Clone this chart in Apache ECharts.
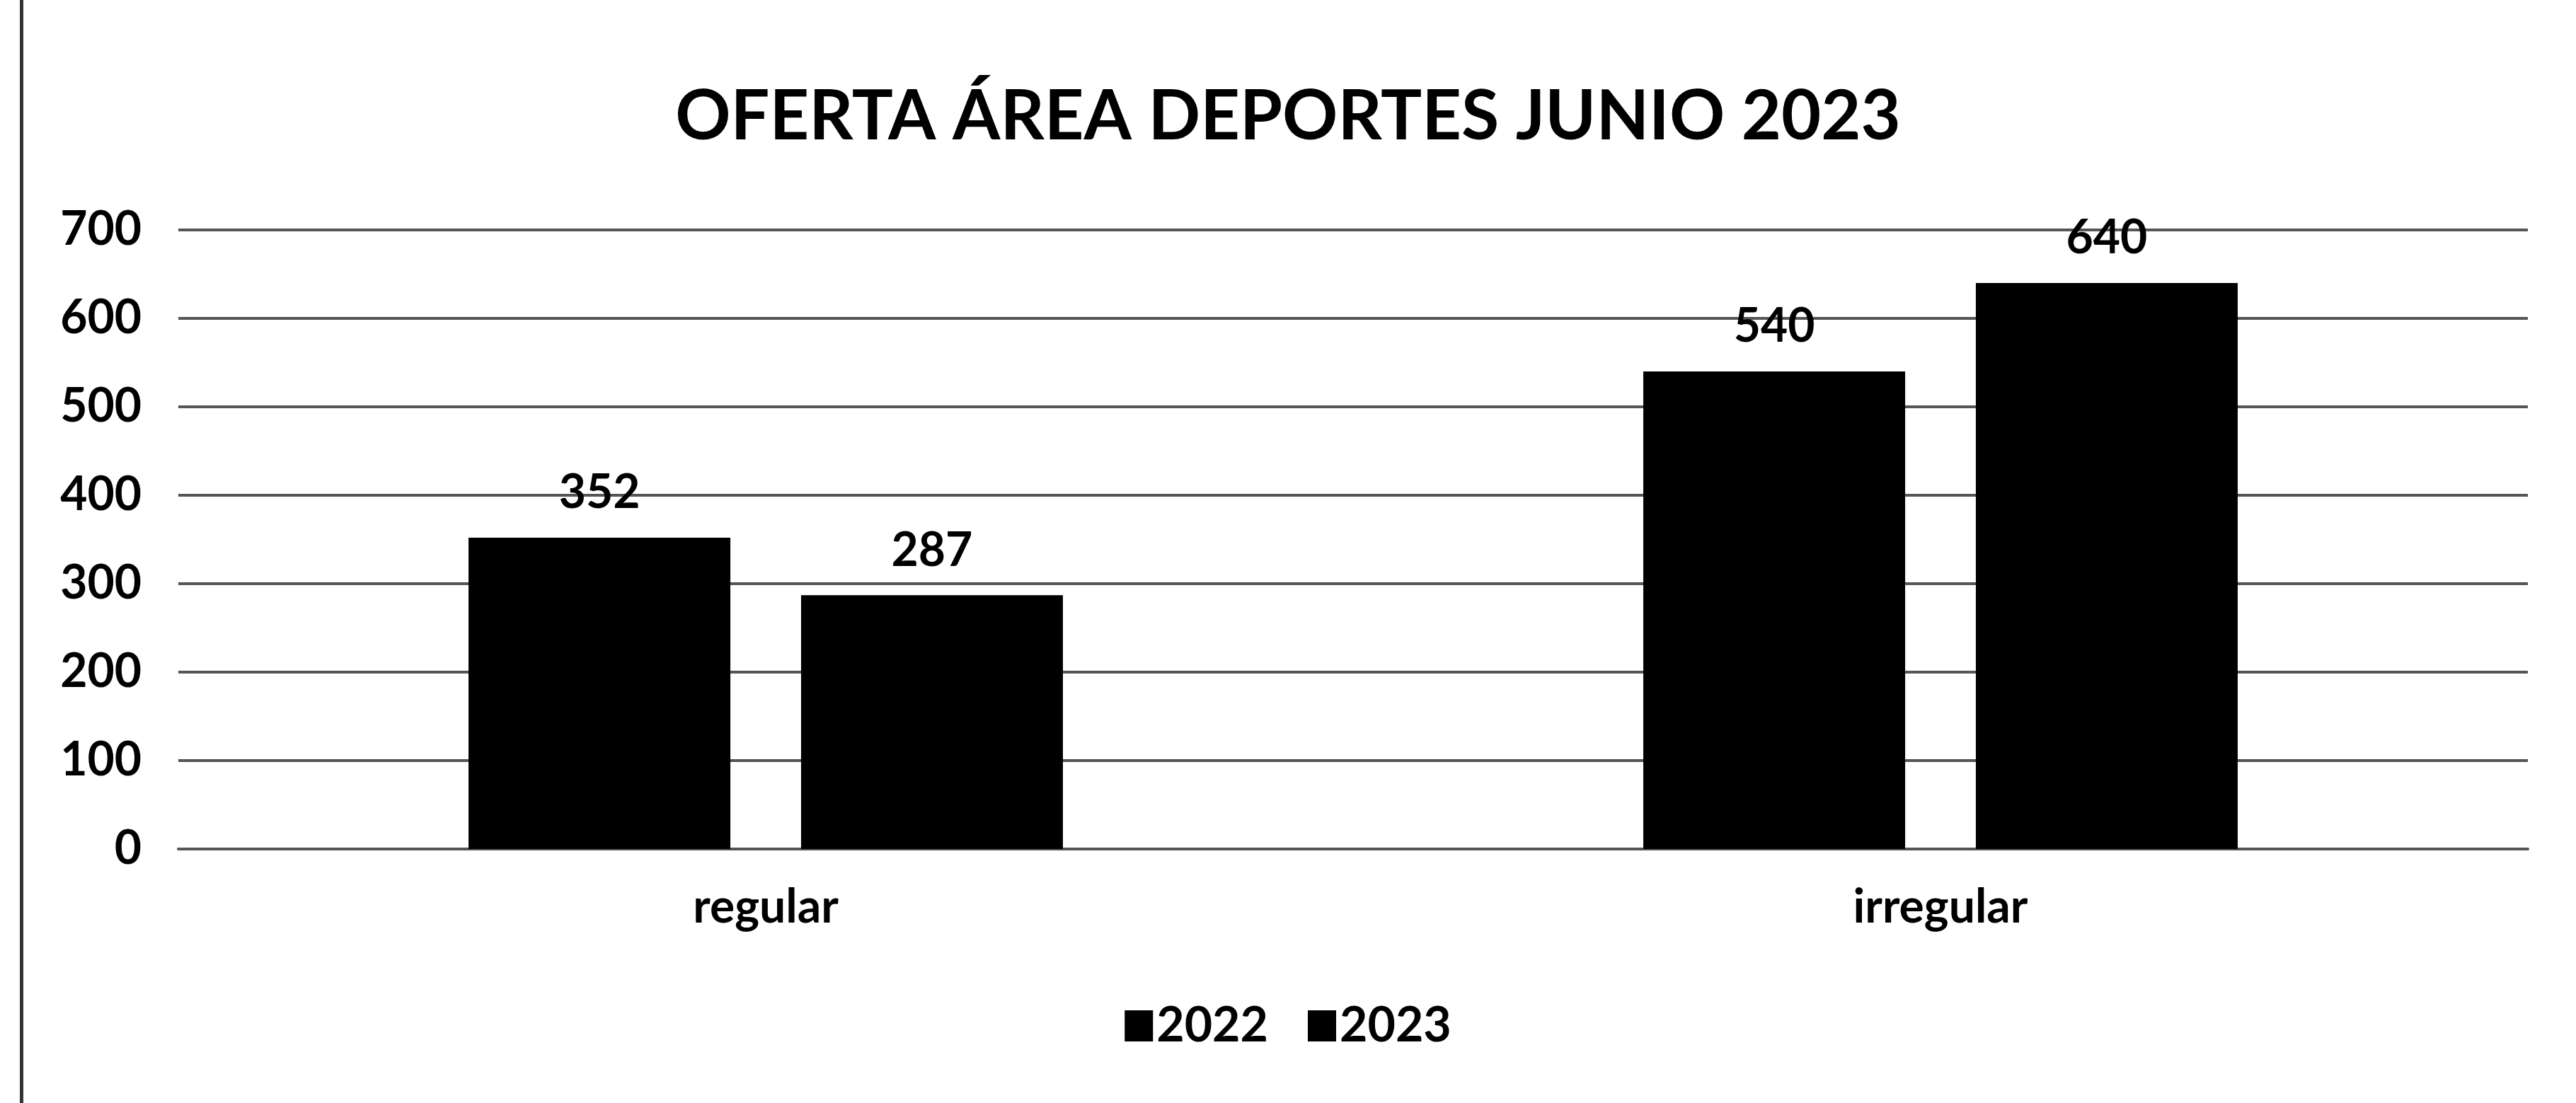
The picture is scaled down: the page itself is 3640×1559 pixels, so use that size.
<!DOCTYPE html>
<html>
<head>
<meta charset="utf-8">
<script src="https://cdn.jsdelivr.net/npm/echarts@6/dist/echarts.min.js"></script>
<style>
html,body{margin:0;padding:0;background:#fff;}
#chart{width:3640px;height:1559px;}
</style>
</head>
<body>
<div id="chart"></div>
<script>
const titleText = 'OFERTA ÁREA DEPORTES JUNIO 2023';
const categories = ['regular', 'irregular'];
const seriesNames = ['2022', '2023'];
const values2022 = [352, 540];
const values2023 = [287, 640];
const yTicks = [0, 100, 200, 300, 400, 500, 600, 700];

const chart = echarts.init(document.getElementById('chart'));
const font = 'Lato, "Open Sans", sans-serif';
const labelStyle = {
  show: true, position: 'top', distance: 30,
  color: '#000', fontFamily: font, fontWeight: 'bold', fontSize: 66
};
chart.setOption({
  backgroundColor: '#fff',
  animation: false,
  title: {
    text: titleText, left: 'center', top: 112,
    textStyle: {fontFamily: font, fontWeight: 'bold', fontSize: 97, color: '#000'}
  },
  legend: {
    data: seriesNames, bottom: 70, left: 'center',
    icon: 'rect', itemWidth: 40, itemHeight: 44, itemGap: 56,
    textStyle: {fontFamily: font, fontWeight: 'bold', fontSize: 68, color: '#000'}
  },
  grid: {left: 252, right: 68, top: 325, bottom: 359, containLabel: false},
  xAxis: {
    type: 'category', data: categories,
    axisLine: {show: true, lineStyle: {color: '#555', width: 4}},
    axisTick: {show: false},
    axisLabel: {margin: 50, color: '#000', fontFamily: font, fontWeight: 'bold', fontSize: 66}
  },
  yAxis: {
    type: 'value', min: yTicks[0], max: yTicks[yTicks.length - 1], interval: 100,
    axisLine: {show: false}, axisTick: {show: false},
    axisLabel: {margin: 52, color: '#000', fontFamily: font, fontWeight: 'bold', fontSize: 66},
    splitLine: {lineStyle: {color: '#555', width: 4}}
  },
  series: [
    {name: seriesNames[0], type: 'bar', data: values2022, barWidth: 370, barGap: '27%',
     itemStyle: {color: '#000'}, label: labelStyle},
    {name: seriesNames[1], type: 'bar', data: values2023, barWidth: 370,
     itemStyle: {color: '#000'}, label: labelStyle}
  ],
  graphic: [
    {type: 'rect', left: 28, top: 0, shape: {width: 5, height: 1559}, style: {fill: '#333'}}
  ]
});
</script>
</body>
</html>
